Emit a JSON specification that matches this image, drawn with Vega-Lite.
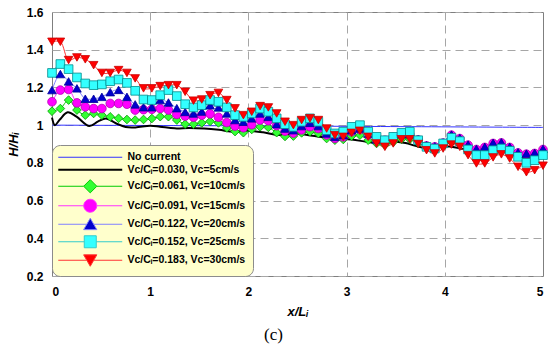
{
  "$schema": "https://vega.github.io/schema/vega-lite/v6.json",
  "width": 491,
  "height": 264,
  "autosize": "none",
  "padding": {"left": 52, "top": 12, "right": 7, "bottom": 73},
  "background": "white",
  "config": {
    "view": {"stroke": "#7f7f7f", "strokeWidth": 1},
    "axis": {
      "grid": true, "gridColor": "#a6a6a6", "gridDash": [8, 5], "gridWidth": 1,
      "domain": false, "ticks": false, "labelOverlap": false,
      "labelFont": "Liberation Sans", "labelFontWeight": "bold", "labelFontSize": 12, "labelColor": "#000",
      "titleFont": "Liberation Sans", "titleFontWeight": "bold", "titleFontStyle": "italic", "titleFontSize": 13, "titleColor": "#000"
    }
  },
  "title": {"text": "(c)", "orient": "bottom", "anchor": "middle", "font": "Liberation Serif", "fontSize": 17, "fontWeight": "normal", "color": "#000", "dx": -24, "offset": 9},
  "datasets": {
    "ref": [
      {"s": "none", "x": 0, "y": 1.0}, {"s": "none", "x": 2.5, "y": 0.995}, {"s": "none", "x": 5, "y": 0.988},
      {"s": "c05", "x": 0, "y": 1.04}, {"s": "c05", "x": 0.03, "y": 1.0}, {"s": "c05", "x": 0.08, "y": 1.03},
      {"s": "c05", "x": 0.16, "y": 1.068}, {"s": "c05", "x": 0.25, "y": 1.045}, {"s": "c05", "x": 0.38, "y": 0.995},
      {"s": "c05", "x": 0.47, "y": 1.02}, {"s": "c05", "x": 0.55, "y": 1.035}, {"s": "c05", "x": 0.65, "y": 1.01},
      {"s": "c05", "x": 0.75, "y": 0.99}, {"s": "c05", "x": 0.85, "y": 0.988}, {"s": "c05", "x": 1.0, "y": 0.997},
      {"s": "c05", "x": 1.1, "y": 0.992}, {"s": "c05", "x": 1.25, "y": 0.983}, {"s": "c05", "x": 1.4, "y": 0.985},
      {"s": "c05", "x": 1.55, "y": 0.982}, {"s": "c05", "x": 1.7, "y": 0.975}, {"s": "c05", "x": 1.85, "y": 0.965},
      {"s": "c05", "x": 2.0, "y": 0.97}, {"s": "c05", "x": 2.15, "y": 0.962}, {"s": "c05", "x": 2.3, "y": 0.948},
      {"s": "c05", "x": 2.45, "y": 0.955}, {"s": "c05", "x": 2.6, "y": 0.948}, {"s": "c05", "x": 2.75, "y": 0.937},
      {"s": "c05", "x": 2.9, "y": 0.93}, {"s": "c05", "x": 3.05, "y": 0.924}, {"s": "c05", "x": 3.2, "y": 0.912},
      {"s": "c05", "x": 3.3, "y": 0.905}, {"s": "c05", "x": 3.45, "y": 0.912}, {"s": "c05", "x": 3.6, "y": 0.905},
      {"s": "c05", "x": 3.7, "y": 0.89}, {"s": "c05", "x": 3.82, "y": 0.877}, {"s": "c05", "x": 3.95, "y": 0.885},
      {"s": "c05", "x": 4.05, "y": 0.887}, {"s": "c05", "x": 4.15, "y": 0.878}, {"s": "c05", "x": 4.3, "y": 0.86},
      {"s": "c05", "x": 4.45, "y": 0.855}, {"s": "c05", "x": 4.6, "y": 0.858}, {"s": "c05", "x": 4.75, "y": 0.84},
      {"s": "c05", "x": 4.85, "y": 0.835}, {"s": "c05", "x": 5.0, "y": 0.845}
    ],
    "markers": [
      {"x": 0, "c10": 1.074, "c15": 1.124, "c20": 1.186, "c25": 1.277, "c30": 1.442},
      {"x": 0.085, "c10": 1.088, "c15": 1.186, "c20": 1.271, "c25": 1.324, "c30": 1.442},
      {"x": 0.169, "c10": 1.133, "c15": 1.189, "c20": 1.232, "c25": 1.297, "c30": 1.345},
      {"x": 0.254, "c10": 1.080, "c15": 1.118, "c20": 1.195, "c25": 1.253, "c30": 1.359},
      {"x": 0.339, "c10": 1.053, "c15": 1.097, "c20": 1.14, "c25": 1.221, "c30": 1.349},
      {"x": 0.424, "c10": 1.062, "c15": 1.088, "c20": 1.14, "c25": 1.212, "c30": 1.318},
      {"x": 0.508, "c10": 1.053, "c15": 1.088, "c20": 1.15, "c25": 1.216, "c30": 1.277},
      {"x": 0.593, "c10": 1.044, "c15": 1.115, "c20": 1.175, "c25": 1.233, "c30": 1.277},
      {"x": 0.678, "c10": 1.036, "c15": 1.115, "c20": 1.187, "c25": 1.242, "c30": 1.292},
      {"x": 0.763, "c10": 1.030, "c15": 1.111, "c20": 1.15, "c25": 1.224, "c30": 1.277},
      {"x": 0.847, "c10": 1.027, "c15": 1.08, "c20": 1.11, "c25": 1.182, "c30": 1.248},
      {"x": 0.932, "c10": 1.03, "c15": 1.082, "c20": 1.095, "c25": 1.136, "c30": 1.195},
      {"x": 1.017, "c10": 1.035, "c15": 1.084, "c20": 1.095, "c25": 1.133, "c30": 1.195},
      {"x": 1.102, "c10": 1.045, "c15": 1.088, "c20": 1.133, "c25": 1.159, "c30": 1.207},
      {"x": 1.186, "c10": 1.045, "c15": 1.08, "c20": 1.12, "c25": 1.186, "c30": 1.212},
      {"x": 1.271, "c10": 1.027, "c15": 1.057, "c20": 1.09, "c25": 1.154, "c30": 1.212},
      {"x": 1.356, "c10": 1.005, "c15": 1.048, "c20": 1.07, "c25": 1.111, "c30": 1.177},
      {"x": 1.441, "c10": 1.005, "c15": 1.042, "c20": 1.062, "c25": 1.094, "c30": 1.13},
      {"x": 1.525, "c10": 1.012, "c15": 1.053, "c20": 1.072, "c25": 1.106, "c30": 1.136},
      {"x": 1.610, "c10": 1.02, "c15": 1.06, "c20": 1.105, "c25": 1.133, "c30": 1.159},
      {"x": 1.695, "c10": 1.012, "c15": 1.042, "c20": 1.094, "c25": 1.124, "c30": 1.171},
      {"x": 1.780, "c10": 0.985, "c15": 1.014, "c20": 1.062, "c25": 1.094, "c30": 1.133},
      {"x": 1.864, "c10": 0.966, "c15": 0.995, "c20": 1.027, "c25": 1.053, "c30": 1.089},
      {"x": 1.949, "c10": 0.96, "c15": 0.986, "c20": 1.018, "c25": 1.044, "c30": 1.053},
      {"x": 2.034, "c10": 0.977, "c15": 1.002, "c20": 1.036, "c25": 1.062, "c30": 1.071},
      {"x": 2.119, "c10": 0.991, "c15": 1.027, "c20": 1.062, "c25": 1.088, "c30": 1.101},
      {"x": 2.203, "c10": 0.988, "c15": 1.023, "c20": 1.044, "c25": 1.071, "c30": 1.094},
      {"x": 2.288, "c10": 0.96, "c15": 0.997, "c20": 1.005, "c25": 1.036, "c30": 1.062},
      {"x": 2.373, "c10": 0.94, "c15": 0.968, "c20": 0.982, "c25": 1.005, "c30": 1.018},
      {"x": 2.458, "c10": 0.942, "c15": 0.958, "c20": 0.973, "c25": 0.991, "c30": 1.0},
      {"x": 2.542, "c10": 0.959, "c15": 0.975, "c20": 0.995, "c25": 1.018, "c30": 1.027},
      {"x": 2.627, "c10": 0.965, "c15": 0.992, "c20": 1.012, "c25": 1.036, "c30": 1.036},
      {"x": 2.712, "c10": 0.956, "c15": 0.982, "c20": 0.995, "c25": 1.018, "c30": 1.027},
      {"x": 2.797, "c10": 0.929, "c15": 0.948, "c20": 0.956, "c25": 0.973, "c30": 0.982},
      {"x": 2.881, "c10": 0.92, "c15": 0.93, "c20": 0.938, "c25": 0.956, "c30": 0.947},
      {"x": 2.966, "c10": 0.924, "c15": 0.938, "c20": 0.947, "c25": 0.965, "c30": 0.938},
      {"x": 3.051, "c10": 0.942, "c15": 0.965, "c20": 0.973, "c25": 0.991, "c30": 0.959},
      {"x": 3.136, "c10": 0.947, "c15": 0.977, "c20": 0.982, "c25": 1.0, "c30": 0.97},
      {"x": 3.220, "c10": 0.92, "c15": 0.948, "c20": 0.956, "c25": 0.965, "c30": 0.938},
      {"x": 3.305, "c10": 0.903, "c15": 0.922, "c20": 0.924, "c25": 0.938, "c30": 0.903},
      {"x": 3.390, "c10": 0.895, "c15": 0.92, "c20": 0.922, "c25": 0.92, "c30": 0.885},
      {"x": 3.475, "c10": 0.91, "c15": 0.935, "c20": 0.938, "c25": 0.938, "c30": 0.903},
      {"x": 3.559, "c10": 0.925, "c15": 0.95, "c20": 0.953, "c25": 0.959, "c30": 0.925},
      {"x": 3.644, "c10": 0.925, "c15": 0.95, "c20": 0.953, "c25": 0.965, "c30": 0.925},
      {"x": 3.729, "c10": 0.905, "c15": 0.922, "c20": 0.925, "c25": 0.92, "c30": 0.9},
      {"x": 3.814, "c10": 0.88, "c15": 0.89, "c20": 0.893, "c25": 0.885, "c30": 0.867},
      {"x": 3.898, "c10": 0.872, "c15": 0.885, "c20": 0.888, "c25": 0.876, "c30": 0.85},
      {"x": 3.983, "c10": 0.89, "c15": 0.905, "c20": 0.908, "c25": 0.903, "c30": 0.876},
      {"x": 4.068, "c10": 0.91, "c15": 0.947, "c20": 0.95, "c25": 0.933, "c30": 0.897},
      {"x": 4.153, "c10": 0.9, "c15": 0.929, "c20": 0.932, "c25": 0.915, "c30": 0.885},
      {"x": 4.237, "c10": 0.87, "c15": 0.894, "c20": 0.897, "c25": 0.871, "c30": 0.841},
      {"x": 4.322, "c10": 0.85, "c15": 0.871, "c20": 0.874, "c25": 0.841, "c30": 0.797},
      {"x": 4.407, "c10": 0.855, "c15": 0.882, "c20": 0.885, "c25": 0.841, "c30": 0.797},
      {"x": 4.492, "c10": 0.875, "c15": 0.903, "c20": 0.906, "c25": 0.867, "c30": 0.829},
      {"x": 4.576, "c10": 0.88, "c15": 0.906, "c20": 0.909, "c25": 0.876, "c30": 0.845},
      {"x": 4.661, "c10": 0.865, "c15": 0.882, "c20": 0.885, "c25": 0.864, "c30": 0.823},
      {"x": 4.746, "c10": 0.84, "c15": 0.853, "c20": 0.856, "c25": 0.832, "c30": 0.779},
      {"x": 4.831, "c10": 0.83, "c15": 0.846, "c20": 0.849, "c25": 0.80, "c30": 0.75},
      {"x": 4.915, "c10": 0.835, "c15": 0.85, "c20": 0.853, "c25": 0.814, "c30": 0.761},
      {"x": 5.0, "c10": 0.855, "c15": 0.871, "c20": 0.874, "c25": 0.841, "c30": 0.785}
    ]
  },
  "layer": [
    {
      "data": {"name": "ref"},
      "mark": {"type": "line", "interpolate": "catmull-rom"},
      "encoding": {
        "x": {"field": "x", "type": "quantitative", "scale": {"domain": [0, 5], "nice": false},
              "axis": {"title": "x/Lᵢ", "values": [0, 1, 2, 3, 4, 5], "format": "~g", "labelPadding": 10, "titlePadding": 8, "labelOverlap": false,
                       "gridOpacity": {"condition": {"test": "datum.value == 0 || datum.value == 5", "value": 0}, "value": 1}}},
        "y": {"field": "y", "type": "quantitative", "scale": {"domain": [0.2, 1.6], "nice": false, "zero": false},
              "axis": {"title": "H/Hᵢ", "tickCount": 7, "format": "~g", "labelPadding": 9, "titlePadding": 6,
                       "labelOverlap": false, "labelFlush": false, "labelBound": false}},
        "color": {
          "field": "s", "type": "nominal",
          "scale": {"domain": ["none", "c05", "c10", "c15", "c20", "c25", "c30"],
                    "range": ["#3333ff", "#000000", "#00cc00", "#ff33ff", "#8080ff", "#33cccc", "#ff3333"]},
          "legend": {
            "title": null, "orient": "bottom-left", "offset": 0,
            "fillColor": "#ffffcc", "strokeColor": "#8c8c8c", "cornerRadius": 8, "padding": 7,
            "symbolSize": 144, "symbolOffset": 26, "labelOffset": 32, "rowPadding": 1.5,
            "labelFont": "Liberation Sans", "labelFontWeight": "bold", "labelFontSize": 10.5, "labelColor": "#000", "labelLimit": 0,
            "labelExpr": "datum.value == 'none' ? 'No current' : datum.value == 'c05' ? 'Vc/Cᵢ=0.030, Vc=5cm/s' : datum.value == 'c10' ? 'Vc/Cᵢ=0.061, Vc=10cm/s' : datum.value == 'c15' ? 'Vc/Cᵢ=0.091, Vc=15cm/s' : datum.value == 'c20' ? 'Vc/Cᵢ=0.122, Vc=20cm/s' : datum.value == 'c25' ? 'Vc/Cᵢ=0.152, Vc=25cm/s' : 'Vc/Cᵢ=0.183, Vc=30cm/s'",
            "encode": {
              "symbols": {
                "update": {
                  "shape": {"signal": "datum.value == 'none' || datum.value == 'c05' ? 'M-5.33,0L5.33,0' : datum.value == 'c10' ? 'M-5.33,0L-1.1,0M1.1,0L5.33,0M0,-1.1L1.1,0L0,1.1L-1.1,0Z' : datum.value == 'c15' ? 'M-5.33,0L-1.08,0M1.08,0L5.33,0M-1.08,0A1.08,1.08,0,1,1,1.08,0A1.08,1.08,0,1,1,-1.08,0Z' : datum.value == 'c20' ? 'M-5.33,0L-0.6,0M0.6,0L5.33,0M0,-1.0L1.1,0.9L-1.1,0.9Z' : datum.value == 'c25' ? 'M-5.33,0L-1,0M1,0L5.33,0M-1,-1L1,-1L1,1L-1,1Z' : 'M-5.33,0L-0.6,0M0.6,0L5.33,0M0,1.0L1.1,-0.9L-1.1,-0.9Z'"},
                  "fill": {"signal": "datum.value == 'c10' ? '#33ff33' : datum.value == 'c15' ? '#ff00ff' : datum.value == 'c20' ? '#0000cc' : datum.value == 'c25' ? '#33ffff' : datum.value == 'c30' ? '#ff0000' : 'transparent'"},
                  "stroke": {"signal": "datum.value == 'none' ? '#4d4dff' : datum.value == 'c05' ? '#000000' : datum.value == 'c10' ? '#00cc00' : datum.value == 'c15' ? '#ff33ff' : datum.value == 'c20' ? '#8080ff' : datum.value == 'c25' ? '#33cccc' : '#ff3333'"},
                  "strokeWidth": {"signal": "datum.value == 'c05' ? 2 : 1"},
                  "opacity": {"value": 1}
                }
              }
            }
          }
        },
        "strokeWidth": {"field": "s", "type": "nominal", "scale": {"domain": ["none", "c05"], "range": [1, 2]}, "legend": null}
      }
    },
    {
      "data": {"name": "markers"},
      "transform": [{"fold": ["c10", "c15", "c20", "c25", "c30"], "as": ["s", "y"]}],
      "mark": {"type": "line", "interpolate": "catmull-rom", "strokeWidth": 1},
      "encoding": {
        "x": {"field": "x", "type": "quantitative"},
        "y": {"field": "y", "type": "quantitative"},
        "color": {"field": "s", "type": "nominal", "legend": null}
      }
    },
    {
      "data": {"name": "markers"},
      "transform": [{"fold": ["c10", "c15", "c20", "c25", "c30"], "as": ["s", "y"]}],
      "mark": {"type": "point", "filled": false, "size": 75, "strokeWidth": 0.8, "opacity": 1},
      "encoding": {
        "x": {"field": "x", "type": "quantitative"},
        "y": {"field": "y", "type": "quantitative"},
        "shape": {"field": "s", "type": "nominal",
                  "scale": {"domain": ["c10", "c15", "c20", "c25", "c30"], "range": ["diamond", "circle", "triangle-up", "square", "triangle-down"]},
                  "legend": null},
        "fill": {"field": "s", "type": "nominal",
                 "scale": {"domain": ["c10", "c15", "c20", "c25", "c30"], "range": ["#33ff33", "#ff00ff", "#0000cc", "#33ffff", "#ff0000"]},
                 "legend": null},
        "stroke": {"field": "s", "type": "nominal",
                   "scale": {"domain": ["c10", "c15", "c20", "c25", "c30"], "range": ["#009900", "#b300b3", "#000099", "#008b8b", "#cc0000"]},
                   "legend": null}
      }
    }
  ],
  "resolve": {"scale": {"stroke": "independent", "fill": "independent"}}
}
